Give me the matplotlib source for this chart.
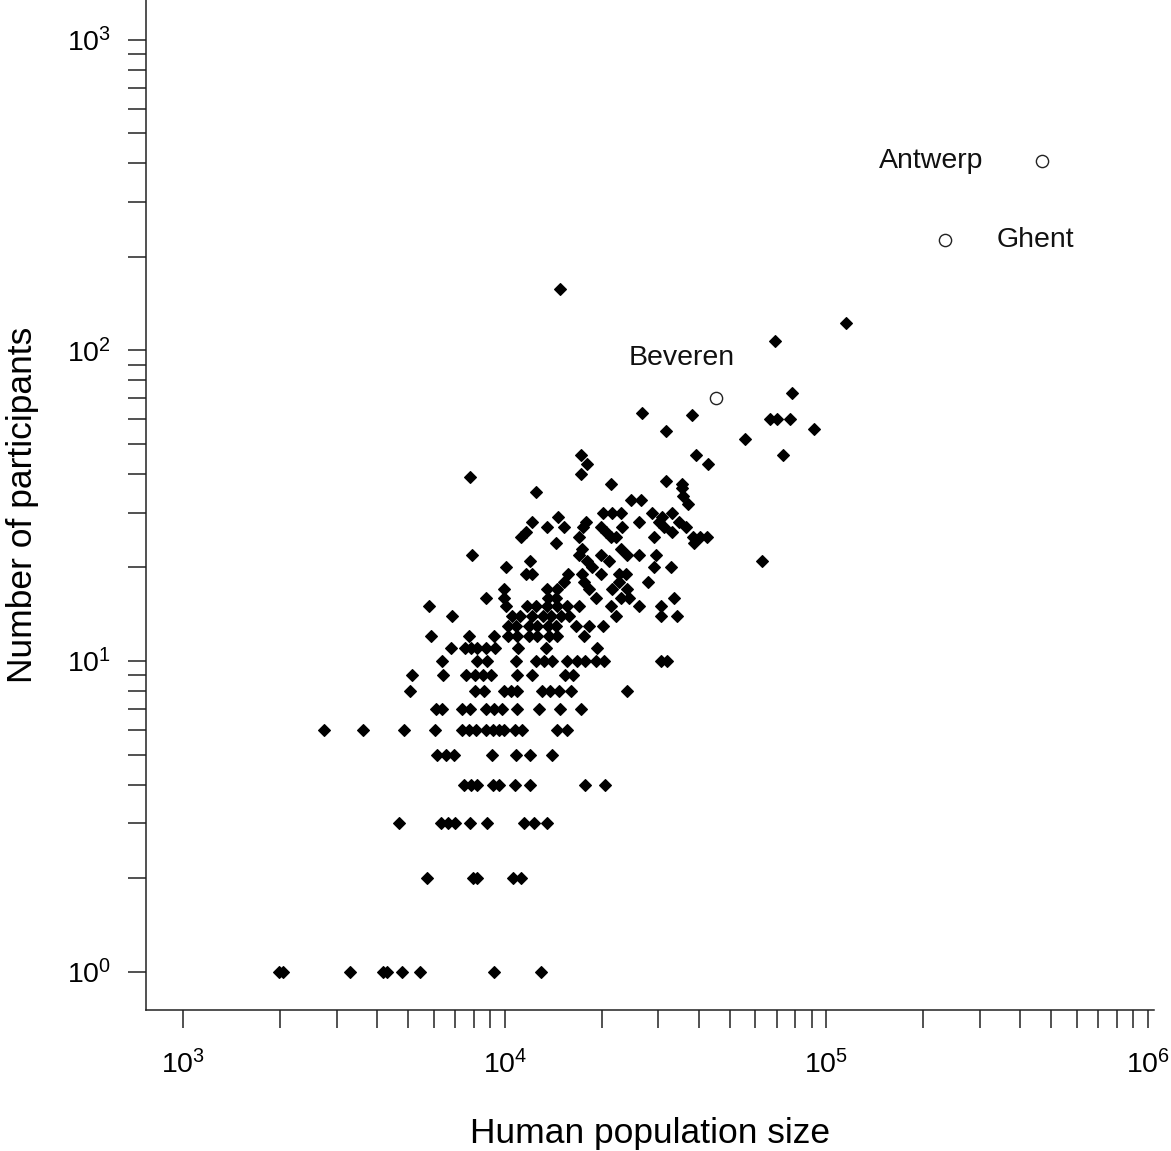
import matplotlib
matplotlib.use("Agg")
import matplotlib.pyplot as plt
from matplotlib.ticker import FixedLocator, FixedFormatter, NullFormatter

plt.rcParams['font.family'] = ['Liberation Sans', 'DejaVu Sans']
plt.rcParams['mathtext.fontset'] = 'custom'
plt.rcParams['mathtext.rm'] = 'Liberation Sans'
plt.rcParams['mathtext.it'] = 'Liberation Sans:italic'
plt.rcParams['mathtext.bf'] = 'Liberation Sans:bold'

# ---- data ----
population = [
    1982, 2040, 3294, 4170, 4291, 4776, 5433, 9225, 12912,                       # 1
    5712, 7937, 8168, 10569, 11190,                                              # 2
    4675, 6314, 6639, 6979, 7769, 8774, 11434, 12283, 13480,                     # 3
    7443, 7824, 8168, 9159, 9560, 10721, 11935, 17690, 20411,                    # 4
    6136, 6544, 6929, 9093, 10798, 11935, 13969,                                 # 5
    2734, 3614, 4846, 6048, 7337, 7713, 8110, 8711, 9159, 9560, 9909, 10721,
    11270, 14479, 15554,                                                         # 6
    6092, 6359, 7337, 7769, 8711, 9225, 9767, 10876, 12729, 14793, 17190,        # 7
    5058, 8052, 8587, 9909, 10418, 10876, 13005, 13770, 14687, 16003, 23892,     # 8
    5131, 6405, 7550, 8052, 8526, 9028, 10876, 12107, 15332, 16235,              # 9
    6359, 8168, 8774, 10798, 12459, 13194, 13969, 15554, 16707, 17690, 19139,
    20267, 30468, 31805,                                                         # 10
    6781, 7496, 7824, 8168, 8711, 9291, 10954, 13383, 19277,                     # 11
    5877, 7713, 9225, 10200, 10876, 11850, 12548, 13672, 14479, 17565,           # 12
    10200, 10798, 11850, 12548, 13577, 14375, 16587, 18203, 20122,               # 13
    6830, 10493, 11110, 12107, 13100, 13869, 14899, 15776, 22083, 30468, 34163,  # 14
    5794, 10051, 11682, 12459, 13480, 14479, 15554, 16946, 21306, 26031, 30468,  # 15
    8711, 9909, 13577, 14375, 19139, 22886, 24234, 33441,                        # 16
    9909, 13480, 14479, 18203, 21459, 23892,                                     # 17
    15223, 17565, 22561, 27765,                                                  # 18
    11598, 12107, 15665, 17314, 19835, 22561, 23721,                             # 19
    10051, 18598, 28983, 32728,                                                  # 20
    11935, 17946, 21003, 63008,                                                  # 21
    7880, 16946, 19835, 23892, 26031, 29399,                                     # 22
    17314, 22886,                                                                # 23
    14375, 38584,                                                                # 24
    11190, 16946, 21306, 22083, 28983, 38308, 40562, 42345,                      # 25
    11598, 20558, 32963,                                                         # 26
    13480, 15223, 17439, 19835, 23051, 31131, 36436,                             # 27
    12107, 17817, 26031, 30035, 34655,                                           # 28
    14583, 30687,                                                                # 29
    20122, 21459, 22886, 28569, 32963,                                           # 30
    36963, 24583, 26406, 35663, 12459, 35407, 21306, 35407, 31579, 7769, 17190,
    17946, 42649, 17190, 39139, 73230, 55790, 31579, 91420,
    66727, 70159, 76990, 38033, 26596, 78099, 69158, 114990, 14793,
]
participants = [
    1, 1, 1, 1, 1, 1, 1, 1, 1,
    2, 2, 2, 2, 2,
    3, 3, 3, 3, 3, 3, 3, 3, 3,
    4, 4, 4, 4, 4, 4, 4, 4, 4,
    5, 5, 5, 5, 5, 5, 5,
    6, 6, 6, 6, 6, 6, 6, 6, 6, 6, 6, 6,
    6, 6, 6,
    7, 7, 7, 7, 7, 7, 7, 7, 7, 7, 7,
    8, 8, 8, 8, 8, 8, 8, 8, 8, 8, 8,
    9, 9, 9, 9, 9, 9, 9, 9, 9, 9,
    10, 10, 10, 10, 10, 10, 10, 10, 10, 10, 10,
    10, 10, 10,
    11, 11, 11, 11, 11, 11, 11, 11, 11,
    12, 12, 12, 12, 12, 12, 12, 12, 12, 12,
    13, 13, 13, 13, 13, 13, 13, 13, 13,
    14, 14, 14, 14, 14, 14, 14, 14, 14, 14, 14,
    15, 15, 15, 15, 15, 15, 15, 15, 15, 15, 15,
    16, 16, 16, 16, 16, 16, 16, 16,
    17, 17, 17, 17, 17, 17,
    18, 18, 18, 18,
    19, 19, 19, 19, 19, 19, 19,
    20, 20, 20, 20,
    21, 21, 21, 21,
    22, 22, 22, 22, 22, 22,
    23, 23,
    24, 24,
    25, 25, 25, 25, 25, 25, 25, 25,
    26, 26, 26,
    27, 27, 27, 27, 27, 27, 27,
    28, 28, 28, 28, 28,
    29, 29,
    30, 30, 30, 30, 30,
    32, 33, 33, 34, 35, 36, 37, 37, 38, 39, 40,
    43, 43, 46, 46, 46, 52, 55, 56,
    60, 60, 60, 62, 63, 73, 107, 122, 157,
]

city_names = ['Antwerp', 'Ghent', 'Beveren']
city_population = [468000, 233700, 45330]
city_participants = [407, 226, 70]

x_major = [1e3, 1e4, 1e5, 1e6]
x_major_labels = [r'$\mathregular{10^{3}}$', r'$\mathregular{10^{4}}$',
                  r'$\mathregular{10^{5}}$', r'$\mathregular{10^{6}}$']
y_major = [1, 10, 100, 1000]
y_major_labels = [r'$\mathregular{10^{0}}$', r'$\mathregular{10^{1}}$',
                  r'$\mathregular{10^{2}}$', r'$\mathregular{10^{3}}$']

# ---- figure ----
W, H = 1171, 1151
fig = plt.figure(figsize=(W / 100, H / 100), dpi=100)
ax = fig.add_axes([146 / W, 141 / H, (1154 - 146) / W, (1151 - 141) / H])

ax.set_xscale('log')
ax.set_yscale('log')
ax.set_xlim(10 ** 2.8834, 10 ** 6.0187)
ax.set_ylim(10 ** -0.1233, 10 ** 3.1274)

ax.plot(population, participants, linestyle='none', marker='D', ms=6.0,
        mew=0.8, color='black', clip_on=False)
ax.plot(city_population, city_participants, linestyle='none', marker='o',
        ms=8.8, mew=1.0, mfc='white', mec='#222222')

offsets = {'Antwerp': ((-41.8, 0), 'right', 'center'),
           'Ghent': ((37.4, 0), 'left', 'center'),
           'Beveren': ((-24.5, 28.8), 'center', 'center')}
for name, p, n in zip(city_names, city_population, city_participants):
    off, ha, va = offsets[name]
    ax.annotate(name, xy=(p, n), xytext=off, textcoords='offset points',
                ha=ha, va=va, fontsize=20.5, color='#111111')

# ticks
x_minor = [k * 10 ** d for d in (3, 4, 5) for k in range(2, 10)]
y_minor = [k * 10 ** d for d in (0, 1, 2) for k in range(2, 10)]
ax.xaxis.set_major_locator(FixedLocator(x_major))
ax.xaxis.set_major_formatter(FixedFormatter(x_major_labels))
ax.xaxis.set_minor_locator(FixedLocator(x_minor))
ax.xaxis.set_minor_formatter(NullFormatter())
ax.yaxis.set_major_locator(FixedLocator(y_major))
ax.yaxis.set_major_formatter(FixedFormatter(y_major_labels))
ax.yaxis.set_minor_locator(FixedLocator(y_minor))
ax.yaxis.set_minor_formatter(NullFormatter())

ax.tick_params(which='both', direction='out', length=13, width=1.1,
               color='#222222')
ax.tick_params(axis='x', which='major', labelsize=20.5, pad=16)
ax.tick_params(axis='y', which='major', labelsize=20.5, pad=12)

for s in ('top', 'right'):
    ax.spines[s].set_visible(False)
for s in ('left', 'bottom'):
    ax.spines[s].set_linewidth(1.1)
    ax.spines[s].set_color('#222222')

fig.text(650 / W, (H - 1143) / H, 'Human population size', ha='center',
         va='baseline', fontsize=25.5)
fig.text(23 / W, 1 - 505 / H, 'Number of participants', ha='center',
         va='center', rotation=90, fontsize=25.5)

fig.savefig('out.png', dpi=100)
